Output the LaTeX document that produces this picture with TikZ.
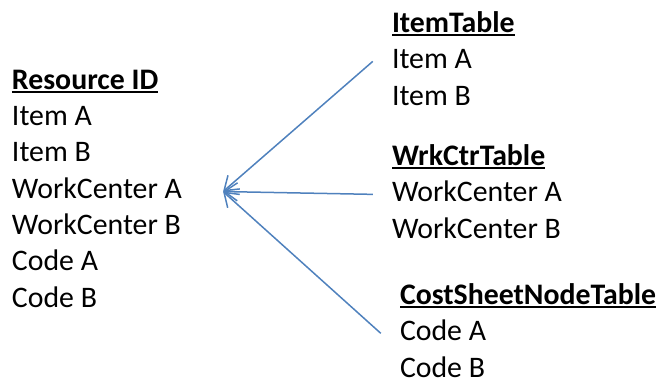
\documentclass[tikz,border=0pt]{standalone}
\usepackage{fontspec}
\setmainfont{Carlito}
\usetikzlibrary{arrows.meta}

\definecolor{linkblue}{HTML}{4F81BD}

% bold heading with a thick underline
\newsavebox\headbox
\newcommand\tabhead[1]{\sbox\headbox{\bfseries #1}\rlap{\vrule width\wd\headbox height -1.5pt depth 4pt}\usebox\headbox}

\begin{document}
\begin{tikzpicture}[x=1pt, y=-1pt, >={Straight Barb[length=13pt,width=18pt]},
  tab/.style={anchor=text, align=left, inner xsep=19pt, inner ysep=0pt,
    font={\fontsize{29.8}{36.3}\selectfont}},
  link/.style={->, draw=linkblue, line width=1.5pt}]
\useasboundingbox (0,0) rectangle (661,381);

% tables, placed by the baseline of their last line
\node[tab] (resid) at (12,307) {\tabhead{Resource ID}\\Item A\\Item B\\WorkCenter A\\WorkCenter B\\Code A\\Code B};

\node[tab] (itemtab) at (392,105) {\tabhead{ItemTable}\\Item A\\Item B};
\node[tab] (wrktab) at (392,238) {\tabhead{WrkCtrTable}\\WorkCenter A\\WorkCenter B};
\node[tab] (costtab) at (400,377) {\tabhead{CostSheetNodeTable}\\Code A\\Code B};

\coordinate (hub) at ([xshift=22pt,yshift=-3pt]resid.east);

\draw[link] ([yshift=-3pt]itemtab.west) -- (hub);
\draw[link] ([yshift=-3pt]wrktab.west) -- (hub);
\draw[link] ([yshift=-3pt]costtab.west) -- (hub);
\end{tikzpicture}
\end{document}
